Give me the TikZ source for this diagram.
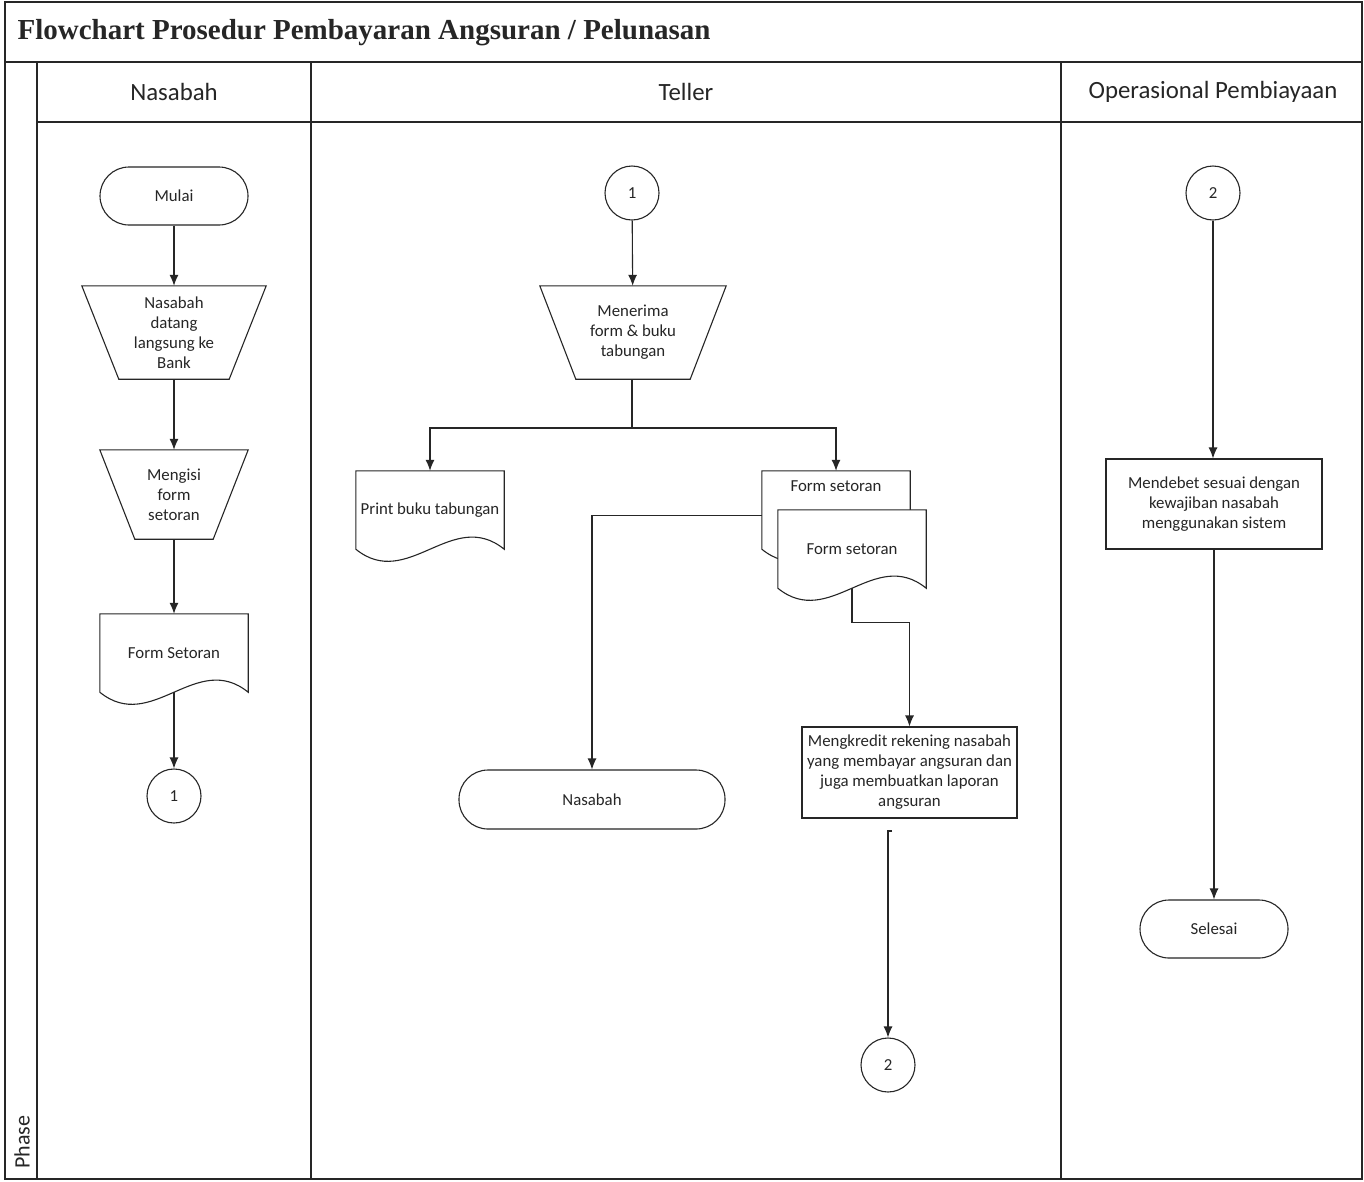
\documentclass[tikz,border=0pt]{standalone}
\usepackage{fontspec}
\setmainfont{Carlito}
\newfontfamily\titlefont{Liberation Serif}
\usetikzlibrary{arrows.meta,calc,backgrounds}
\definecolor{ink}{HTML}{262626}

% outline of a manual-operation trapezoid around a node (inset = #2)
\newcommand\manualoutline[2]{%
  \draw[line] (#1.north west) -- (#1.north east)
    -- ($(#1.south east)+(-#2,0)$) -- ($(#1.south west)+(#2,0)$) -- cycle;}
% outline of a document shape (wavy bottom) around a node
\newcommand\docoutline[1]{%
  \draw[line,fill=white] (#1.north west) -- (#1.south west)
    .. controls ($(#1.south west)!0.35!(#1.south east)+(0,42)$)
            and ($(#1.south west)!0.65!(#1.south east)+(0,-42)$) .. (#1.south east)
    -- (#1.north east) -- cycle;}

\begin{document}
\begin{tikzpicture}[x=1pt,y=-1pt,
  line/.style={draw=ink,line width=1.1pt},
  flow/.style={line,-{Latex[length=11pt,width=9pt]}},
  lbl/.style={font=\fontsize{16.8}{20}\selectfont,text=ink,align=center},
  hdr/.style={font=\fontsize{24.8}{28}\selectfont,text=ink},
  terminal/.style={lbl,line,rectangle,rounded corners=29pt,minimum width=148pt,minimum height=58pt},
  procbox/.style={lbl,line,rectangle,inner sep=2pt},
  connector/.style={lbl,line,circle,minimum size=54pt,inner sep=0pt},
  manualbox/.style={lbl,rectangle,inner sep=0pt},
  docbox/.style={lbl,rectangle,inner sep=0pt,minimum width=148pt,minimum height=78pt}]

\useasboundingbox (0,0) rectangle (1364,1181);
\begin{scope}[on background layer]
  \fill[white] (0,0) rectangle (1364,1181);
\end{scope}

% ---- swimlane frame ----
\draw[line] (5,2) rectangle (1362,1179);
\draw[line] (5,62) -- (1362,62);
\draw[line] (37,122) -- (1362,122);
\draw[line] (37,62) -- (37,1179);
\draw[line] (311,62) -- (311,1179);
\draw[line] (1061,62) -- (1061,1179);

\node[anchor=west,font=\titlefont\bfseries\fontsize{29}{32}\selectfont,text=ink] (title) at (14,33)
  {Flowchart Prosedur Pembayaran Angsuran / Pelunasan};
\node[hdr] (laneA) at (174,92) {Nasabah};
\node[hdr] (laneB) at (686,92) {Teller};
\node[hdr] (laneC) at (1213,92) {Operasional Pembiayaan};
\node[rotate=90,font=\fontsize{22}{24}\selectfont,text=ink] (phase) at (22,1142) {Phase};

% ---- Nasabah ----
\node[terminal] (mulai) at (174,196) {Mulai};
\node[manualbox,minimum width=184pt,minimum height=93pt] (datang) at (174,332.5)
  {Nasabah\\datang\\langsung ke\\Bank};
\manualoutline{datang}{37}
\node[manualbox,minimum width=148pt,minimum height=89pt] (mengisi) at (174,494.5)
  {Mengisi\\form\\setoran};
\manualoutline{mengisi}{35}
\node[docbox] (formA) at (174,653) {Form Setoran};
\begin{scope}[on background layer]\docoutline{formA}\end{scope}
\node[connector] (c1a) at (174,796) {1};

\draw[flow] (mulai) -- (datang);
\draw[flow] (datang) -- (mengisi);
\draw[flow] (mengisi) -- (formA);
\draw[flow] (formA.south) -- (c1a);

% ---- Teller ----
\node[connector] (c1b) at (632,193) {1};
\node[manualbox,minimum width=186pt,minimum height=93pt] (terima) at (633,332.5)
  {Menerima\\form \& buku\\tabungan};
\manualoutline{terima}{36}
\node[docbox] (print) at (430,510) {Print buku tabungan};
\node[docbox] (formB) at (836,510) {};
\node[lbl] (formBtxt) at (836,486) {Form setoran};
\node[docbox] (formC) at (852,549) {Form setoran};
\begin{scope}[on background layer]
  \docoutline{print}
  \docoutline{formB}
  \docoutline{formC}
\end{scope}
\node[terminal,minimum width=266pt,minimum height=59pt] (nasT) at (592,799.5) {Nasabah};
\node[procbox,minimum width=215pt,minimum height=91pt] (kredit) at (909.5,772.5)
  {Mengkredit rekening nasabah\\yang membayar angsuran dan\\juga membuatkan laporan\\angsuran};
\coordinate (split) at (632,428);
\coordinate (k2top) at (888,831);
\node[connector] (c2a) at (888,1065) {2};

\draw[flow] (c1b) -- (terima);
\draw[line] (terima.south -| c1b) -- (split);
\draw[flow] (split) -| (print.north);
\draw[flow] (split) -| (formB.north);
\draw[flow] ($(formB.north west)+(0,45)$) -| (nasT.north);
\draw[flow] (formC.south) -- ++(0,34) -| (kredit.north);
\draw[flow] ($(k2top)+(4,0)$) -- (k2top) -- (c2a.north);

% ---- Operasional Pembiayaan ----
\node[connector] (c2b) at (1213,193) {2};
\node[procbox,minimum width=216pt,minimum height=90pt] (debet) at (1214,504)
  {Mendebet sesuai dengan\\kewajiban nasabah\\menggunakan sistem};
\node[terminal] (selesai) at (1214,929) {Selesai};

\draw[flow] (c2b) -- (c2b |- debet.north);
\draw[flow] (debet) -- (selesai);

\end{tikzpicture}
\end{document}
